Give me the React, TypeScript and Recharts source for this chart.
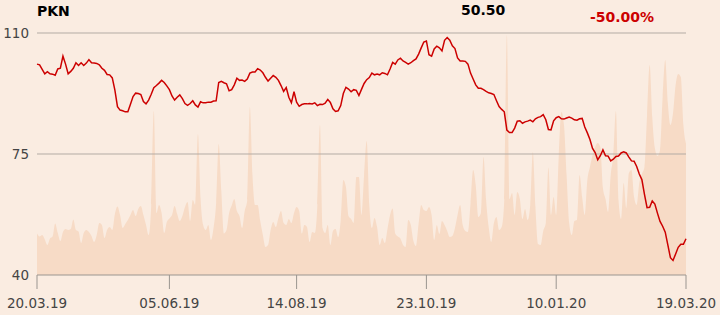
import { ComposedChart, Area, Line, XAxis, YAxis, ReferenceLine } from 'recharts';

// closing price, one value per trading day
const PRICE = [
  101.0, 100.8, 99.5, 98.2, 98.8, 98.2, 98.1, 97.8, 99.6, 99.8,
  103.3, 101.0, 98.2, 98.9, 99.8, 101.4, 100.6, 101.4, 100.6, 101.3,
  102.3, 101.4, 101.3, 101.2, 100.8, 99.8, 99.2, 98.0, 97.9, 97.0,
  93.5, 88.7, 87.7, 87.5, 87.2, 87.2, 89.4, 91.6, 92.6, 92.5,
  92.2, 90.2, 89.5, 90.6, 92.3, 94.2, 94.8, 95.5, 96.3, 95.7,
  94.7, 93.6, 91.8, 90.6, 91.4, 92.1, 91.0, 89.6, 89.1, 89.6,
  90.4, 89.2, 88.6, 90.1, 89.8, 89.8, 90.0, 90.0, 90.3, 90.4,
  95.7, 96.0, 95.6, 95.3, 93.3, 93.6, 95.0, 96.9, 96.3, 96.4,
  96.0, 96.7, 98.4, 98.7, 98.7, 99.7, 99.3, 98.5, 97.2, 96.1,
  96.9, 97.7, 97.2, 96.3, 94.8, 93.1, 94.2, 91.4, 89.8, 93.0,
  90.0, 88.8, 89.3, 89.5, 89.5, 89.6, 89.5, 89.8, 89.0, 89.4,
  89.3, 89.7, 90.8, 89.9, 88.1, 87.3, 87.5, 89.0, 92.5, 94.3,
  93.8, 93.0, 93.6, 93.4, 91.9, 93.7, 95.4, 96.5, 97.1, 98.4,
  97.9, 98.1, 97.9, 98.5, 98.3, 97.9, 99.6, 101.5, 101.0, 102.2,
  102.7, 101.9, 101.5, 101.0, 101.4, 102.0, 102.5, 103.9, 105.7, 107.4,
  107.7, 103.7, 103.3, 105.4, 106.2, 105.7, 104.8, 107.9, 108.7, 107.9,
  106.3, 105.5, 102.8, 101.9, 101.9, 101.8, 101.0, 98.4, 96.7, 95.0,
  94.0, 94.0, 93.6, 93.1, 92.7, 92.5, 92.2, 90.4, 88.7, 87.9,
  87.2, 81.9, 81.2, 81.2, 82.5, 84.5, 84.6, 83.9, 84.3, 84.5,
  84.8, 84.3, 85.2, 85.6, 85.8, 86.4, 84.9, 82.1, 82.0, 84.6,
  85.5, 85.8, 85.2, 85.1, 85.4, 85.7, 85.4, 84.9, 84.8, 85.2,
  85.3, 82.8, 81.1, 79.2, 76.6, 75.4, 73.3, 74.5, 76.2, 74.5,
  74.4, 73.0, 73.5, 74.3, 74.4, 75.3, 75.6, 75.3, 74.1, 73.0,
  72.9, 71.4, 69.2, 67.6, 63.3, 59.5, 59.6, 61.4, 60.5, 57.9,
  55.5, 54.1, 52.4, 48.7, 45.0, 44.2, 46.1, 48.0, 48.9, 48.9,
  50.5,
];

// volume, thousands of shares
const VOLUME = [
  830, 770, 800, 710, 600, 730, 770, 1030, 840, 680,
  860, 920, 900, 920, 1110, 900, 870, 640, 840, 900,
  860, 780, 660, 800, 1040, 1000, 740, 900, 960, 900,
  1220, 1370, 1200, 940, 1020, 1100, 1200, 1300, 1180, 1320,
  1380, 1200, 1000, 800, 1400, 3280, 1240, 1400, 1240, 840,
  1060, 1130, 1200, 1380, 1220, 1080, 1180, 1360, 1460, 1080,
  1500, 1400, 2820, 1540, 1000, 900, 1000, 700, 940, 1440,
  2620, 1680, 830, 900, 1240, 1390, 1520, 1280, 1180, 940,
  1280, 1500, 3360, 2000, 1400, 1400, 1080, 800, 560, 600,
  900, 1060, 960, 1140, 1280, 1040, 1000, 1120, 1040, 1240,
  1360, 1280, 830, 1000, 960, 660, 860, 840, 1400, 3000,
  940, 840, 1000, 600, 880, 920, 760, 1100, 1900, 1760,
  1180, 1120, 1040, 1960, 1960, 1200, 2000, 2680, 1400, 940,
  1140, 960, 600, 740, 640, 920, 1200, 1330, 830, 770,
  730, 600, 560, 1100, 1000, 680, 580, 1030, 1400, 1300,
  1280, 1360, 1200, 700, 1000, 820, 1080, 1000, 880, 760,
  780, 940, 1200, 1400, 1000, 880, 860, 1430, 2100, 1800,
  1160, 1240, 2360, 1500, 960, 660, 1040, 1160, 900, 960,
  1500, 4800, 1520, 1640, 1200, 1660, 1520, 1120, 1320, 1100,
  1400, 2460, 1360, 620, 600, 880, 1040, 2150, 1200, 1560,
  1200, 2400, 3260, 3000, 2000, 1040, 800, 1080, 1100, 2000,
  1560, 1200, 1900, 2160, 2400, 2560, 2640, 2560, 1740, 1520,
  1260, 2000, 2400, 3280, 1500, 1120, 1840, 1340, 2040, 2100,
  1560, 1400, 1840, 2020, 2160, 3200, 4200, 3160, 2540, 2380,
  2500, 3560, 4300, 3440, 3000, 3240, 3800, 4020, 3960, 3000,
  2630,
];

const TICK_DAYS = [0, 51, 100, 150, 200, 250];
const TICK_LABELS = ['20.03.19', '05.06.19', '14.08.19', '23.10.19', '10.01.20', '19.03.20'];
const PRICE_TICKS = [40, 75, 110];
const GRID_LINES = [75, 110];

const data = PRICE.map((price, i) => ({ day: i, price, volume: VOLUME[i] }));

const last = PRICE[PRICE.length - 1];
const change = (last / PRICE[0] - 1) * 100;

const FONT = '"DejaVu Sans", sans-serif';
const BG = '#faece1';

export default function App() {
  return (
    <div
      style={{
        position: 'fixed',
        left: 0,
        top: 0,
        width: 720,
        height: 315,
        background: BG,
        fontFamily: FONT,
      }}
    >
      <div style={{ position: 'absolute', left: 37, top: 4, fontSize: 14, lineHeight: '14px', fontWeight: 700, color: '#000' }}>
        PKN
      </div>
      <div style={{ position: 'absolute', left: 461, top: 3, fontSize: 14, lineHeight: '14px', fontWeight: 700, color: '#000' }}>
        {last.toFixed(2)}
      </div>
      <div style={{ position: 'absolute', left: 590, top: 10, fontSize: 14, lineHeight: '14px', fontWeight: 700, color: '#cc0000' }}>
        {change.toFixed(2)}%
      </div>

      <ComposedChart
        width={720}
        height={315}
        data={data}
        margin={{ top: 33, right: 34, left: 0, bottom: 0 }}
        style={{ fontFamily: FONT }}
      >
        <XAxis
          dataKey="day"
          type="number"
          domain={[0, 250]}
          ticks={TICK_DAYS}
          interval={0}
          tickFormatter={(v: number) => TICK_LABELS[TICK_DAYS.indexOf(v)]}
          tickSize={14}
          tickMargin={9}
          height={40}
          stroke="#9a9590"
          tick={{ fill: '#444', fontSize: 13.5 }}
        />
        <YAxis
          yAxisId="price"
          domain={[40, 110]}
          ticks={PRICE_TICKS}
          width={37}
          axisLine={false}
          tickLine={false}
          tick={{ fill: '#444', fontSize: 13.5 }}
        />
        <YAxis yAxisId="vol" orientation="right" domain={[0, 4840]} hide allowDataOverflow />
        <Area
          yAxisId="vol"
          dataKey="volume"
          type="monotone"
          fill="#f7dbc6"
          fillOpacity={1}
          stroke="none"
          isAnimationActive={false}
        />
        {GRID_LINES.map((v) => (
          <ReferenceLine key={v} yAxisId="price" y={v} stroke="#b3aba4" strokeWidth={1} />
        ))}
        <Line
          yAxisId="price"
          dataKey="price"
          type="linear"
          stroke="#cc0000"
          strokeWidth={1.5}
          dot={false}
          isAnimationActive={false}
        />
      </ComposedChart>
    </div>
  );
}
